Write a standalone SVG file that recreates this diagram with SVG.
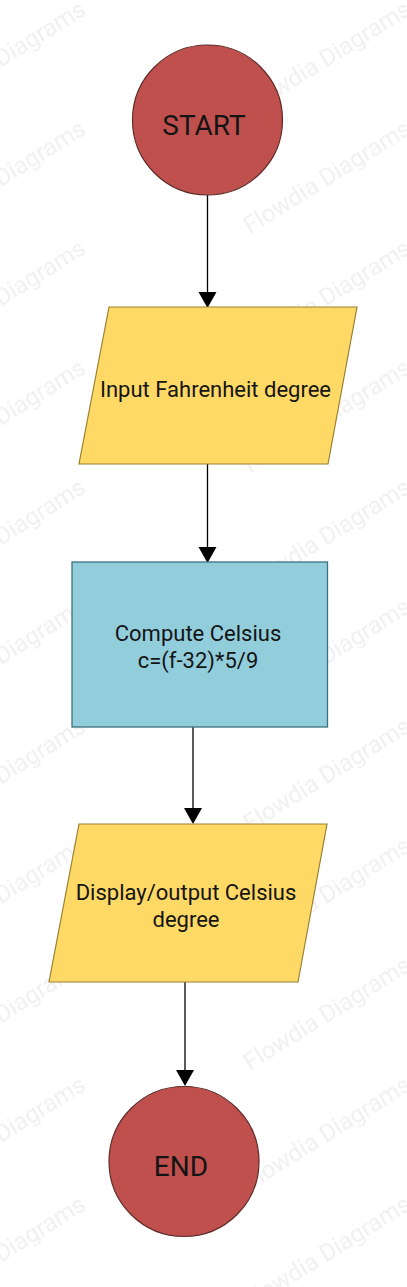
<svg xmlns="http://www.w3.org/2000/svg" width="407" height="1287" viewBox="0 0 407 1287">
<style>
.wm{font-family:Roboto,"Liberation Sans",sans-serif;font-size:24px;fill:#000;fill-opacity:0.06}
.term{fill:#C0504D;stroke:#5E2B28;stroke-width:1.2}
.io{fill:#FFD966;stroke:#9A8232;stroke-width:1.2}
.proc{fill:#92CDDC;stroke:#3E6F80;stroke-width:1.3}
.lbl{font-family:Roboto,"Liberation Sans",sans-serif;font-size:22px;fill:#141414;text-anchor:middle}
.big{font-size:28px}
.edge{stroke:#000;stroke-width:1.3;fill:none}
.head{fill:#000;stroke:none}
</style>
<defs>
<pattern id="wmp" patternUnits="userSpaceOnUse" x="-89" y="5" width="325" height="119.5">
<text class="wm" x="14" y="-9.5" transform="rotate(-32 14 -9.5)">Flowdia Diagrams</text>
<text class="wm" x="14" y="110" transform="rotate(-32 14 110)">Flowdia Diagrams</text>
<text class="wm" x="14" y="229.5" transform="rotate(-32 14 229.5)">Flowdia Diagrams</text>
</pattern>
</defs>
<rect width="407" height="1287" fill="#fff"/>
<rect id="watermark" width="407" height="1287" fill="url(#wmp)"/>
<g id="connectors">
<line class="edge" x1="207.5" y1="195" x2="207.5" y2="293"/>
<polygon class="head" points="198.5,292 216.5,292 207.5,308"/>
<line class="edge" x1="207.5" y1="464" x2="207.5" y2="548"/>
<polygon class="head" points="198.5,547 216.5,547 207.5,563"/>
<line class="edge" x1="193" y1="727" x2="193" y2="809"/>
<polygon class="head" points="184,808 202,808 193,824"/>
<line class="edge" x1="185" y1="982" x2="185" y2="1071" stroke-width="2"/>
<polygon class="head" points="176,1070 194,1070 185,1086"/>
</g>
<g id="start">
<circle class="term" cx="207.5" cy="120" r="75"/>
<text class="lbl big" x="204" y="134.5">START</text>
</g>
<g id="input">
<polygon class="io" points="109,307 357,307 328,464 79,464"/>
<text class="lbl" x="215.5" y="397">Input Fahrenheit degree</text>
</g>
<g id="compute">
<rect class="proc" x="72" y="562" width="255.5" height="165"/>
<text class="lbl" x="198" y="641">Compute Celsius</text>
<text class="lbl" x="198" y="668">c=(f-32)*5/9</text>
</g>
<g id="output">
<polygon class="io" points="79,824 327,824 298,982 49,982"/>
<text class="lbl" x="186" y="900">Display/output Celsius</text>
<text class="lbl" x="186" y="927">degree</text>
</g>
<g id="end">
<circle class="term" cx="184" cy="1161.5" r="75"/>
<text class="lbl big" x="181" y="1176">END</text>
</g>
</svg>
